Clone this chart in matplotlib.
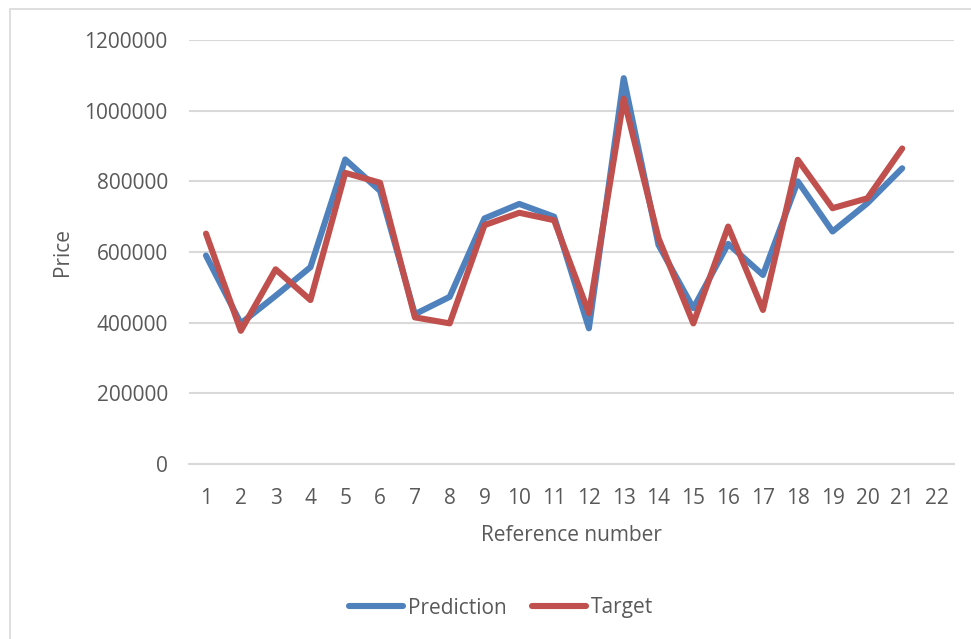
#!/usr/bin/env python3
"""Line chart of predicted vs target price per reference number."""

import matplotlib

matplotlib.use("Agg")
import matplotlib.pyplot as plt
from matplotlib.patches import Rectangle

reference = list(range(1, 22))
categories = [str(i) for i in range(1, 23)]
prediction = [590000, 398000, 476000, 557000, 862000, 773000, 424000, 473000,
              695000, 736000, 700000, 384000, 1092000, 620000, 441000, 623000,
              535000, 800000, 658000, 738000, 837000]
target = [652000, 377000, 551000, 464000, 824000, 796000, 415000, 398000,
          676000, 711000, 690000, 427000, 1034000, 639000, 398000, 672000,
          436000, 861000, 724000, 752000, 893000]
y_ticks = [0, 200000, 400000, 600000, 800000, 1000000, 1200000]

TEXT = "#595959"
GRID = "#d9d9d9"
BLUE = "#4f81bd"
RED = "#c0504d"

plt.rcParams.update({
    "font.family": ["Open Sans", "DejaVu Sans"],
    "font.size": 15,
    "text.color": TEXT,
    "axes.labelcolor": TEXT,
    "xtick.color": TEXT,
    "ytick.color": TEXT,
})

fig = plt.figure(figsize=(9.71, 6.39), dpi=100)
W, H = 971, 639

# chart-area frame (runs off the right and bottom edges)
fig.patches.append(Rectangle((10 / W, -0.1), 1.2, 1 - 9 / H + 0.1,
                             transform=fig.transFigure, fill=False,
                             edgecolor=GRID, linewidth=1.2))

ax = fig.add_axes([188.6 / W, 1 - 464 / H, 765.8 / W, 424 / H])
line_kw = dict(linewidth=4.4, solid_capstyle="round", solid_joinstyle="round")
ax.plot(reference, prediction, color=BLUE, label="Prediction", **line_kw)
ax.plot(reference, target, color=RED, label="Target", **line_kw)

ax.set_xlim(0.5, 22.5)
ax.set_ylim(0, 1200000)
ax.set_xticks(range(1, 23))
ax.set_xticklabels(categories)
ax.set_yticks(y_ticks)
ax.set_yticklabels([str(v) for v in y_ticks])
ax.tick_params(axis="both", length=0)
ax.tick_params(axis="y", pad=15)
ax.tick_params(axis="x", pad=17)
ax.grid(axis="y", color=GRID, linewidth=1.5)
ax.set_axisbelow(True)
for side in ["top", "right", "left"]:
    ax.spines[side].set_visible(False)
ax.spines["bottom"].set_color(GRID)
ax.spines["bottom"].set_linewidth(1.5)

ax.set_xlabel("Reference number", labelpad=12)
ax.set_ylabel("Price", labelpad=8)

fig.legend(loc="center", bbox_to_anchor=(0.516, 1 - 608 / H), ncol=2,
           frameon=False, handlelength=2.6, handletextpad=0.25,
           columnspacing=1.2)

fig.savefig("out.png", dpi=100)
